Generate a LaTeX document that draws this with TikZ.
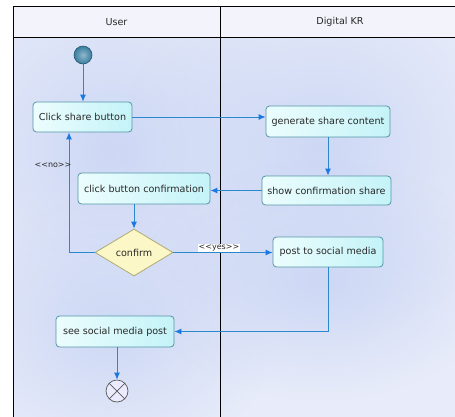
\documentclass[tikz,border=0pt]{standalone}
\usepackage{fontspec}
\setmainfont{DejaVu Sans}[Ligatures=TeXOff]
\usetikzlibrary{arrows.meta,shapes.geometric,fadings}

\definecolor{lanebg}{RGB}{232,236,250}
\definecolor{lanehalo}{RGB}{205,216,245}
\definecolor{headbg}{RGB}{243,244,251}
\definecolor{flow}{RGB}{45,135,205}
\definecolor{tipc}{RGB}{25,120,225}
\definecolor{actborder}{RGB}{85,150,165}
\definecolor{actfill}{RGB}{236,253,253}
\definecolor{actfill2}{RGB}{196,243,248}
\definecolor{decborder}{RGB}{175,170,115}
\definecolor{decfill}{RGB}{252,247,198}
\definecolor{txt}{RGB}{40,40,40}
\definecolor{startc}{RGB}{55,125,160}

% soft radial glow: opaque centre, transparent rim
\tikzfading[name=softglow, inner color=transparent!0, outer color=transparent!100]

\begin{document}
\begin{tikzpicture}[x=1pt,y=-1pt,
  lbl/.style={font=\fontsize{9.6}{11}\selectfont, text=txt},
  action/.style={lbl, draw=actborder, line width=0.8pt, rounded corners=3.5pt,
    left color=actfill, right color=actfill2, inner sep=0pt, align=center},
  decision/.style={lbl, diamond, draw=decborder, line width=0.8pt, fill=decfill,
    inner sep=0pt},
  guard/.style={font=\fontsize{8}{9}\selectfont, text=txt, inner sep=1pt},
  flowline/.style={draw=flow, line width=1pt,
    -{Latex[length=7pt,width=6pt,color=tipc]}},
  halo/.style={fill=lanehalo, path fading=softglow},
]
\useasboundingbox (0,0) rectangle (455,416);

% swimlane bodies and soft glows
\begin{scope}
\clip (13,37) rectangle (456,420);
\fill[lanebg] (13,37) rectangle (456,420);
\fill[halo] (110,150) ellipse (190 and 200);
\fill[halo] (110,330) ellipse (170 and 130);
\fill[halo] (320,150) ellipse (200 and 190);
\fill[halo] (320,280) ellipse (180 and 120);
\end{scope}

% swimlane headers
\fill[headbg] (13,6) rectangle (456,37);
\draw[black, line width=0.9pt] (13,6) rectangle (456,420);
\draw[black, line width=0.9pt] (13,37) -- (456,37);
\draw[black, line width=0.9pt] (220,6) -- (220,420);
\node[lbl] (laneuser) at (116.5,22) {User};
\node[lbl] (lanekr) at (340,22) {Digital KR};

% activities
\node[circle, draw=startc!70!black, line width=0.6pt, minimum size=18pt, inner sep=0pt,
  inner color=startc!55!white, outer color=startc] (start) at (83,55) {};
\node[action, minimum width=99pt, minimum height=30pt] (click) at (82.5,117) {Click share button};
\node[action, minimum width=124pt, minimum height=31pt] (gen) at (328,121.5) {generate share content};
\node[action, minimum width=129pt, minimum height=29pt] (show) at (326.5,190.5) {show confirmation share};
\node[action, minimum width=132pt, minimum height=31pt] (cbc) at (144,188.5) {click button confirmation};
\node[decision, minimum width=78pt, minimum height=47pt] (dec) at (134,252.5) {confirm};
\node[action, minimum width=110pt, minimum height=30pt] (post) at (328,252) {post to social media};
\node[action, minimum width=118pt, minimum height=31pt] (see) at (115,331.5) {see social media post};
\node[circle, draw=black!65, line width=0.7pt, fill=white!92!blue, minimum size=22pt,
  inner sep=0pt] (end) at (117,391) {};
\draw[black!65, line width=0.7pt] (end.north west) -- (end.south east);
\draw[black!65, line width=0.7pt] (end.north east) -- (end.south west);

% control flows
\draw[flowline] (start.south) -- (start.south |- click.north);
\draw[flowline] (click.east) -- (click.east -| gen.west);
\draw[flowline] (gen.south) -- (gen.south |- show.north);
\draw[flowline] (show.west) -- (show.west -| cbc.east);
\draw[flowline] (dec.north |- cbc.south) -- (dec.north);
\draw[flowline] (dec.east) -- (dec.east -| post.west);
\draw[flowline] (dec.west) -| ([xshift=-13.5pt]click.south);
\draw[flowline] (post.south) |- (see.east);
\draw[flowline] (end.north |- see.south) -- (end.north);

% guard labels
\node[guard, fill=white] (yes) at (219,248) {<<yes>>};
\node[guard] (no) at (53,165) {<<no>>};
\end{tikzpicture}
\end{document}
